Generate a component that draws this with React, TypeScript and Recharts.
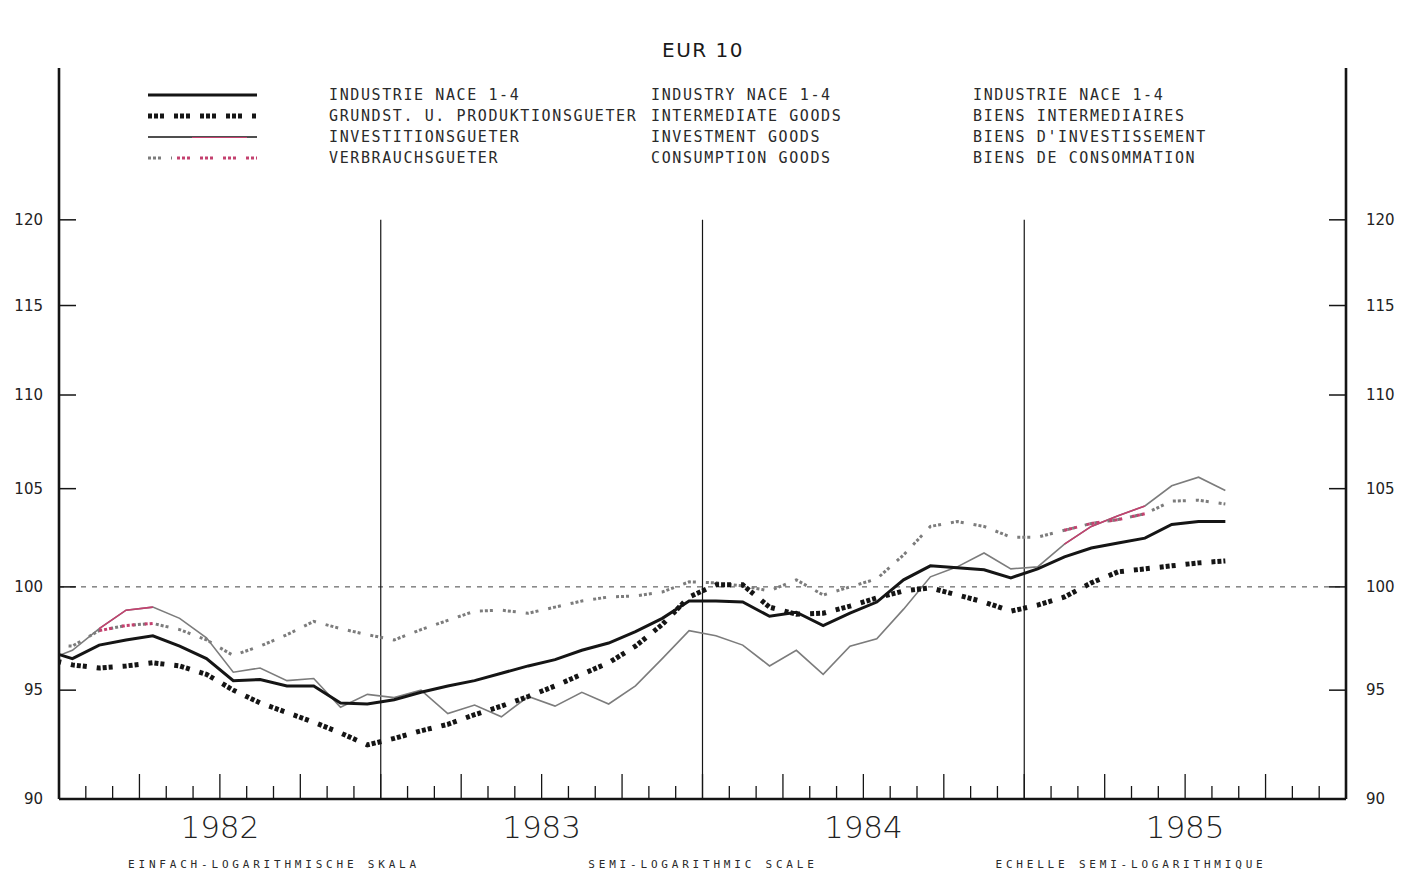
import React from "react";
import { Legend, Line, LineChart, ReferenceLine, XAxis, YAxis } from "recharts";

// monthly index values, Dec 1981 .. Aug 1985 (1980 = 100, semi-log scale)
const industry = [
  96.9, 96.5, 97.15, 97.4, 97.6, 97.1, 96.5, 95.45, 95.5, 95.2, 95.2, 94.4, 94.35,
  94.55, 94.9, 95.2, 95.45, 95.8, 96.15, 96.45, 96.9, 97.25, 97.8, 98.45, 99.3,
  99.3, 99.25, 98.55, 98.75, 98.1, 98.7, 99.25, 100.35, 101.05, 100.95, 100.85, 100.45,
  100.9, 101.5, 101.95, 102.2, 102.45, 103.15, 103.3, 103.3,
];
const intermediate = [
  96.5, 96.2, 96.05, 96.15, 96.3, 96.15, 95.75, 95.0, 94.4, 93.95, 93.5, 93.0, 92.45,
  92.75, 93.1, 93.4, 93.85, 94.25, 94.7, 95.2, 95.75, 96.3, 97.1, 98.15, 99.5,
  100.1, 100.1, 99.0, 98.65, 98.7, 99.05, 99.45, 99.8, 99.95, 99.6, 99.25, 98.8,
  99.1, 99.5, 100.2, 100.75, 100.9, 101.05, 101.2, 101.3,
];
const investment = [
  96.4, 96.9, 97.95, 98.85, 99.0, 98.45, 97.5, 95.85, 96.05, 95.45, 95.55, 94.2, 94.8,
  94.65, 95.0, 93.9, 94.3, 93.75, 94.7, 94.25, 94.9, 94.35, 95.2, 96.5, 97.85,
  97.6, 97.15, 96.15, 96.9, 95.75, 97.1, 97.45, 98.9, 100.5, 101.0, 101.7, 100.9,
  101.0, 102.15, 103.05, 103.6, 104.1, 105.15, 105.6, 104.9,
];
const consumption = [
  97.15, 97.1, 97.85, 98.1, 98.2, 97.9, 97.4, 96.65, 97.1, 97.65, 98.3, 97.95, 97.65,
  97.4, 97.9, 98.35, 98.8, 98.85, 98.7, 99.0, 99.3, 99.5, 99.55, 99.75, 100.25,
  100.2, 100.05, 99.8, 100.35, 99.6, 100.0, 100.4, 101.6, 103.05, 103.3, 103.05, 102.5,
  102.5, 102.85, 103.2, 103.4, 103.7, 104.35, 104.4, 104.2,
];

// stretches where the scan shows the coloured (red) ink, as month numbers from Jan 1982 = 0
const investmentRed = [[1, 3], [37, 40]];
const consumptionRed = [[1, 3], [37, 40]];

const years = ["1982", "1983", "1984", "1985"];
const yTicks = [90, 95, 100, 105, 110, 115, 120];
const monthTicks = Array.from({ length: 49 }, (_, i) => i);
const yearBreaks = [12, 24, 36];

const legendRows = [
  { key: "industry", de: "INDUSTRIE NACE 1-4", en: "INDUSTRY NACE 1-4", fr: "INDUSTRIE NACE 1-4" },
  { key: "intermediate", de: "GRUNDST. U. PRODUKTIONSGUETER", en: "INTERMEDIATE GOODS", fr: "BIENS INTERMEDIAIRES" },
  { key: "investment", de: "INVESTITIONSGUETER", en: "INVESTMENT GOODS", fr: "BIENS D'INVESTISSEMENT" },
  { key: "consumption", de: "VERBRAUCHSGUETER", en: "CONSUMPTION GOODS", fr: "BIENS DE CONSOMMATION" },
];

const BLACK = "#151515";
const GREY = "#7c7c7c";
const RED = "#c4416f";
const DASH_THICK = "4 2 4 2 4 10";
const DASH_DOTS = "3 2 3 2 3 10";
const plotter = "'DejaVu Sans Mono', monospace";

const inRange = (k: number, ranges: number[][]) => ranges.some(([a, b]) => k >= a && k <= b);

const data = industry.map((v, i) => {
  const k = i - 1; // first point is December 1981
  const year = 1981 + Math.floor((i + 11) / 12);
  const month = ((i + 11) % 12) + 1;
  return {
    x: k + 0.5,
    month: `${year}-${String(month).padStart(2, "0")}`,
    industry: v,
    intermediate: intermediate[i],
    investment: investment[i],
    consumption: consumption[i],
    investmentRed: inRange(k, investmentRed) ? investment[i] : null,
    consumptionRed: inRange(k, consumptionRed) ? consumption[i] : null,
  };
});

function MonthTick({ x, y, payload }: any) {
  const v = payload.value as number;
  const len = v % 3 === 0 ? 25 : 13;
  return (
    <g>
      {v > 0 && v < 48 && (
        <line x1={x} x2={x} y1={y} y2={y - len} stroke={BLACK} strokeWidth={1.3} />
      )}
      {v % 12 === 6 && (
        <text
          x={x}
          y={y + 39}
          textAnchor="middle"
          fontFamily="'DejaVu Sans', sans-serif"
          fontWeight={200}
          fontSize={31}
          fill="#222"
        >
          {years[(v - 6) / 12]}
        </text>
      )}
    </g>
  );
}

function LeftTick({ x, y, payload }: any) {
  const v = payload.value as number;
  return (
    <g>
      {v > 90 && <line x1={x + 16} x2={x + 33} y1={y} y2={y} stroke={BLACK} strokeWidth={1.5} />}
      <text x={x} y={y} dy="0.35em" textAnchor="end" fontFamily="'DejaVu Sans', sans-serif" fontSize={15} fill="#222">
        {v}
      </text>
    </g>
  );
}

function RightTick({ x, y, payload }: any) {
  const v = payload.value as number;
  return (
    <g>
      {v > 90 && <line x1={x - 20} x2={x - 37} y1={y} y2={y} stroke={BLACK} strokeWidth={1.5} />}
      <text x={x} y={y} dy="0.35em" textAnchor="start" fontFamily="'DejaVu Sans', sans-serif" fontSize={15} fill="#222">
        {v}
      </text>
    </g>
  );
}

function Sample({ kind }: { kind: string }) {
  return (
    <svg width={112} height={10} style={{ position: "absolute", left: 147, top: -5 }}>
      {kind === "industry" && <line x1={1} x2={110} y1={5} y2={5} stroke={BLACK} strokeWidth={3} />}
      {kind === "intermediate" && (
        <line x1={1} x2={110} y1={5} y2={5} stroke={BLACK} strokeWidth={5} strokeDasharray={DASH_THICK} />
      )}
      {kind === "investment" && (
        <>
          <line x1={1} x2={110} y1={5} y2={5} stroke={BLACK} strokeWidth={1.6} />
          <line x1={45} x2={100} y1={5.5} y2={5.5} stroke={RED} strokeWidth={1.2} />
        </>
      )}
      {kind === "consumption" && (
        <>
          <line x1={1} x2={25} y1={5} y2={5} stroke={GREY} strokeWidth={3} strokeDasharray={DASH_DOTS} />
          <line x1={30} x2={110} y1={5} y2={5} stroke={RED} strokeWidth={3} strokeDasharray={DASH_DOTS} />
        </>
      )}
    </svg>
  );
}

function Header() {
  const rowY = [95, 116, 137, 158];
  const txt: React.CSSProperties = {
    position: "absolute",
    fontFamily: plotter,
    fontSize: 15,
    letterSpacing: 1.6,
    color: "#2a2a2a",
    lineHeight: "16px",
    top: -8,
    whiteSpace: "nowrap",
  };
  return (
    <div style={{ position: "relative", width: 1414, height: 180 }}>
      <div
        style={{
          position: "absolute",
          left: 0,
          width: 1406,
          top: 38,
          textAlign: "center",
          fontFamily: "'DejaVu Sans', sans-serif",
          fontSize: 20,
          letterSpacing: 1.5,
          color: "#1a1a1a",
        }}
      >
        EUR 10
      </div>
      {legendRows.map((r, i) => (
        <div key={r.key} style={{ position: "absolute", left: 0, top: rowY[i] }}>
          <Sample kind={r.key} />
          <span style={{ ...txt, left: 329 }}>{r.de}</span>
          <span style={{ ...txt, left: 651 }}>{r.en}</span>
          <span style={{ ...txt, left: 973 }}>{r.fr}</span>
        </div>
      ))}
    </div>
  );
}

const captions = [
  { text: "EINFACH-LOGARITHMISCHE SKALA", cx: 274 },
  { text: "SEMI-LOGARITHMIC SCALE", cx: 703 },
  { text: "ECHELLE SEMI-LOGARITHMIQUE", cx: 1131 },
];

export default function App() {
  return (
    <div style={{ position: "absolute", left: 0, top: 0, width: 1414, height: 877, background: "#fff" }}>
      <LineChart width={1414} height={877} data={data} margin={{ top: 68, right: 13, bottom: 18, left: 9 }}>
        <XAxis
          dataKey="x"
          type="number"
          domain={[0, 48]}
          allowDataOverflow
          ticks={monthTicks}
          interval={0}
          height={60}
          tickSize={0}
          tickMargin={0}
          tickLine={false}
          tick={MonthTick}
          axisLine={{ stroke: BLACK, strokeWidth: 2.6 }}
        />
        <YAxis
          yAxisId="left"
          type="number"
          scale="log"
          domain={[90, 129.4]}
          allowDataOverflow
          ticks={yTicks}
          interval={0}
          width={50}
          tickSize={0}
          tickMargin={16}
          tickLine={false}
          tick={LeftTick}
          axisLine={{ stroke: BLACK, strokeWidth: 2.6 }}
        />
        <YAxis
          yAxisId="right"
          orientation="right"
          type="number"
          scale="log"
          domain={[90, 129.4]}
          allowDataOverflow
          ticks={yTicks}
          interval={0}
          width={55}
          tickSize={0}
          tickMargin={20}
          tickLine={false}
          tick={RightTick}
          axisLine={{ stroke: BLACK, strokeWidth: 2.6 }}
        />
        <ReferenceLine yAxisId="left" y={100} stroke="#444" strokeWidth={1} strokeDasharray="5 6" />
        {yearBreaks.map((m) => (
          <ReferenceLine
            key={m}
            yAxisId="left"
            segment={[
              { x: m, y: 120 },
              { x: m, y: 90 },
            ]}
            stroke={BLACK}
            strokeWidth={1.2}
          />
        ))}
        <Legend
          verticalAlign="middle"
          align="center"
          wrapperStyle={{ left: 0, top: 0, width: 1414, height: 180 }}
          content={() => <Header />}
        />
        <Line yAxisId="left" dataKey="investment" stroke={GREY} strokeWidth={1.6} dot={false} isAnimationActive={false} />
        <Line yAxisId="left" dataKey="investmentRed" stroke={RED} strokeWidth={1.6} dot={false} legendType="none" isAnimationActive={false} />
        <Line
          yAxisId="left"
          dataKey="consumption"
          stroke={GREY}
          strokeWidth={3}
          strokeDasharray={DASH_DOTS}
          dot={false}
          isAnimationActive={false}
        />
        <Line
          yAxisId="left"
          dataKey="consumptionRed"
          stroke={RED}
          strokeWidth={3}
          strokeDasharray={DASH_DOTS}
          dot={false}
          legendType="none"
          isAnimationActive={false}
        />
        <Line
          yAxisId="left"
          dataKey="intermediate"
          stroke={BLACK}
          strokeWidth={5}
          strokeDasharray={DASH_THICK}
          dot={false}
          isAnimationActive={false}
        />
        <Line yAxisId="left" dataKey="industry" stroke={BLACK} strokeWidth={3} dot={false} isAnimationActive={false} />
      </LineChart>
      {captions.map((c) => (
        <div
          key={c.text}
          style={{
            position: "absolute",
            left: c.cx - 250,
            width: 500,
            top: 859,
            textAlign: "center",
            fontFamily: plotter,
            fontSize: 11,
            letterSpacing: 3.8,
            color: "#2a2a2a",
            lineHeight: "12px",
          }}
        >
          {c.text}
        </div>
      ))}
    </div>
  );
}
